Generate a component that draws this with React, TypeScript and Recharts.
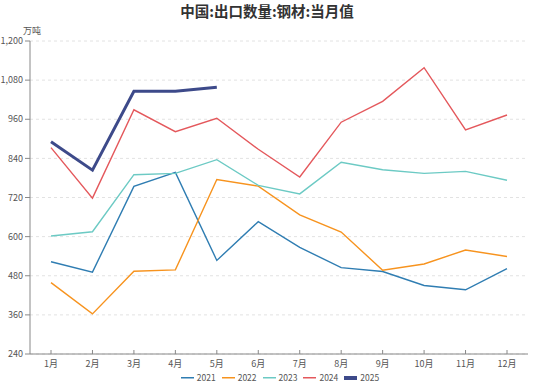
import { LineChart, Line, XAxis, YAxis, CartesianGrid } from 'recharts';

const months = ['1月', '2月', '3月', '4月', '5月', '6月', '7月', '8月', '9月', '10月', '11月', '12月'];
const y2021 = [523, 491, 754, 797, 527, 646, 567, 505, 493, 450, 437, 502];
const y2022 = [459, 363, 494, 498, 775, 755, 667, 614, 497, 516, 559, 539];
const y2023 = [602, 615, 790, 794, 836, 757, 731, 828, 805, 794, 800, 773];
const y2024 = [873, 718, 989, 922, 963, 868, 783, 951, 1015, 1118, 927, 973];
const y2025 = [891, 804, 1046, 1046, 1058];
const yTicks = [240, 360, 480, 600, 720, 840, 960, 1080, 1200];

const series = [
    { key: '2021', values: y2021, color: '#2f7db2', width: 1.4 },
    { key: '2022', values: y2022, color: '#f7931e', width: 1.4 },
    { key: '2023', values: y2023, color: '#6ccac4', width: 1.4 },
    { key: '2024', values: y2024, color: '#e4585c', width: 1.4 },
    { key: '2025', values: y2025, color: '#3d4a8a', width: 3 },
];

const chartData = months.map((m, i) => {
    const row: Record<string, any> = { month: m };
    series.forEach((s) => {
        row[s.key] = s.values[i];
    });
    return row;
});

const font = '"Noto Sans CJK SC", "Noto Sans", sans-serif';

// x 轴刻度线朝上
function XTick(props: any) {
    const { x, y, payload } = props;
    return (
        <g>
            <line x1={x} x2={x} y1={y} y2={y - 4} stroke="#888" />
            <text x={x} y={y + 13} textAnchor="middle" fontSize={9} fill="#555" fontFamily={font}>
                {payload.value}
            </text>
        </g>
    );
}

export default function App() {
    return (
        <div style={{ position: 'absolute', left: 0, top: 0, width: 550, height: 383, background: '#fff', fontFamily: font, overflow: 'hidden' }}>
            <div style={{ position: 'absolute', left: 0, width: 534, top: 0, textAlign: 'center', fontSize: 14.5, fontWeight: 700, color: '#333' }}>
                中国:出口数量:钢材:当月值
            </div>
            <div style={{ position: 'absolute', left: 23, top: 24, fontSize: 9, color: '#555' }}>万吨</div>
            <LineChart width={550} height={383} data={chartData} margin={{ top: 41, right: 22, bottom: 0, left: 0 }}>
                <CartesianGrid horizontal vertical={false} stroke="#e2e2e2" strokeDasharray="3 3" />
                <XAxis
                    dataKey="month"
                    height={29}
                    stroke="#888"
                    tickLine={false}
                    tickSize={0}
                    tickMargin={0}
                    tick={<XTick />}
                    interval={0}
                    padding={{ left: 21, right: 21 }}
                />
                <YAxis
                    width={30}
                    domain={[240, 1200]}
                    ticks={yTicks}
                    stroke="#888"
                    tickSize={5}
                    tickMargin={2}
                    tick={{ fontSize: 9, fill: '#555', fontFamily: font }}
                    tickFormatter={(v: number) => v.toLocaleString('en-US')}
                />
                {series.map((s) => (
                    <Line
                        key={s.key}
                        type="linear"
                        dataKey={s.key}
                        stroke={s.color}
                        strokeWidth={s.width}
                        dot={false}
                        activeDot={false}
                        isAnimationActive={false}
                    />
                ))}
            </LineChart>
            <div style={{ position: 'absolute', left: 0, width: 560, top: 372, height: 11, lineHeight: '11px', display: 'flex', justifyContent: 'center', gap: 6, fontSize: 8.5, color: '#555' }}>
                {series.map((s) => (
                    <div key={s.key} style={{ display: 'flex', alignItems: 'center', gap: 3 }}>
                        <svg width={13} height={6}>
                            <rect x={0} y={s.width > 2 ? 1 : 2} width={13} height={s.width > 2 ? 4 : 1.5} fill={s.color} />
                        </svg>
                        <span>{s.key}</span>
                    </div>
                ))}
            </div>
        </div>
    );
}
